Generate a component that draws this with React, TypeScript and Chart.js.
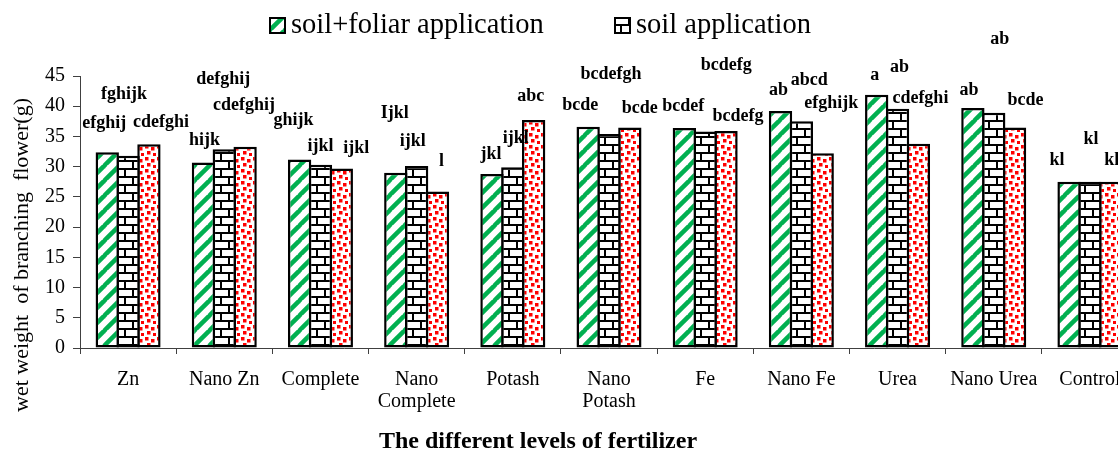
import React, { useEffect, useRef } from "react";
import { Chart, registerables } from "chart.js";

Chart.register(...registerables);

const categories: (string | string[])[] = [
  "Zn",
  "Nano Zn",
  "Complete",
  ["Nano", "Complete"],
  "Potash",
  ["Nano", "Potash"],
  "Fe",
  "Nano Fe",
  "Urea",
  "Nano Urea",
  "Control",
];

const seriesNames = ["soil+foliar application", "soil application", "foliar application"];

const soilFoliar = [32.4, 30.7, 31.2, 29.0, 28.8, 36.6, 36.4, 39.2, 41.9, 39.7, 27.5];
const soilOnly = [31.8, 32.9, 30.3, 30.1, 29.9, 35.4, 35.8, 37.5, 39.6, 38.9, 27.5];
const foliarOnly = [33.7, 33.3, 29.7, 25.9, 37.7, 36.5, 35.9, 32.2, 33.8, 36.5, 27.5];

const lettersSoilFoliar = ["efghij", "hijk", "ghijk", "Ijkl", "jkl", "bcde", "bcdef", "ab", "a", "ab", "kl"];
const lettersSoil = ["fghijk", "defghij", "ijkl", "ijkl", "ijkl", "bcdefgh", "bcdefg", "abcd", "ab", "ab", "kl"];
const lettersFoliar = ["cdefghi", "cdefghij", "ijkl", "l", "abc", "bcde", "bcdefg", "efghijk", "cdefghi", "bcde", "kl"];

// annotation heights (in axis units) where each letter group sits
const letterLevelSoilFoliar = [37.2, 34.4, 37.7, 38.8, 32.0, 40.1, 39.9, 42.6, 45.1, 42.6, 31.1];
const letterLevelSoil = [42.0, 44.5, 33.4, 34.2, 34.7, 45.2, 46.7, 44.3, 46.4, 51.0, 34.6];
const letterLevelFoliar = [37.3, 40.2, 33.1, 30.8, 41.6, 39.7, 38.3, 40.5, 41.3, 40.9, 31.1];

const yTicksMin = 0;
const yTicksMax = 45;
const yTicksStep = 5;

// annotation horizontal nudges (px)
const letterShift = [
  [-3, 1, -6, -1, -1, -8, -1, -2, -2, -4, -12],
  [-4, -1, 0, -4, 3, 2, 21, 8, 2, 6, 1],
  [12, -1, 15, 4, -3, 10, 12, 9, 2, 11, 1],
];

const SERIF = "'Liberation Serif', 'Times New Roman', serif";

function makeStripe(): CanvasPattern | string {
  const c = document.createElement("canvas");
  const p = 15;
  c.width = p;
  c.height = p;
  const g = c.getContext("2d")!;
  g.fillStyle = "#fff";
  g.fillRect(0, 0, p, p);
  g.strokeStyle = "#00B050";
  g.lineWidth = 4.5;
  for (let k = -1; k <= 1; k++) {
    g.beginPath();
    g.moveTo(k * p - 1, p + 1);
    g.lineTo(k * p + p + 1, -1);
    g.stroke();
  }
  return g.createPattern(c, "repeat") || "#00B050";
}

function makeBrick(): CanvasPattern | string {
  const c = document.createElement("canvas");
  const w = 16;
  const h = 16;
  c.width = w;
  c.height = h;
  const g = c.getContext("2d")!;
  g.fillStyle = "#fff";
  g.fillRect(0, 0, w, h);
  g.fillStyle = "#000";
  g.fillRect(0, 0, w, 2);
  g.fillRect(0, 8, w, 2);
  g.fillRect(4, 2, 2, 6);
  g.fillRect(12, 10, 2, 6);
  return g.createPattern(c, "repeat") || "#888";
}

function makeDots(): CanvasPattern | string {
  const c = document.createElement("canvas");
  const s = 12;
  c.width = s;
  c.height = s;
  const g = c.getContext("2d")!;
  g.fillStyle = "#fff";
  g.fillRect(0, 0, s, s);
  g.fillStyle = "#FF0000";
  const pts = [
    [1, 1],
    [7, 3],
    [3, 7],
    [9, 9],
  ];
  pts.forEach(([x, y]) => g.fillRect(x, y, 3.5, 3.5));
  return g.createPattern(c, "repeat") || "#f00";
}

export default function App() {
  const ref = useRef<HTMLCanvasElement | null>(null);

  useEffect(() => {
    if (!ref.current) return;
    const stripe = makeStripe();
    const brick = makeBrick();
    const dots = makeDots();
    const fills = [stripe, brick, dots];

    const letters = [lettersSoilFoliar, lettersSoil, lettersFoliar];
    const levels = [letterLevelSoilFoliar, letterLevelSoil, letterLevelFoliar];

    const annotationPlugin = {
      id: "annotations",
      afterDatasetsDraw(chart: any) {
        const ctx = chart.ctx as CanvasRenderingContext2D;
        const yScale = chart.scales.y;
        ctx.save();
        ctx.fillStyle = "#000";
        ctx.font = `bold 18px ${SERIF}`;
        ctx.textAlign = "center";
        ctx.textBaseline = "middle";
        for (let d = 0; d < 3; d++) {
          const meta = chart.getDatasetMeta(d);
          meta.data.forEach((el: any, i: number) => {
            const x = el.x + letterShift[d][i];
            const y = yScale.getPixelForValue(levels[d][i]);
            ctx.fillText(letters[d][i], x, y);
          });
        }
        ctx.restore();
      },
      afterDraw(chart: any) {
        const ctx = chart.ctx as CanvasRenderingContext2D;
        ctx.save();
        // legend
        const items = [
          { x: 270, tx: 291, fill: fills[0], label: seriesNames[0] },
          { x: 615, tx: 636, fill: fills[1], label: seriesNames[1] },
        ];
        ctx.font = `28.5px ${SERIF}`;
        ctx.textBaseline = "alphabetic";
        ctx.textAlign = "left";
        items.forEach((it) => {
          ctx.fillStyle = it.fill as any;
          ctx.fillRect(it.x, 18, 15, 15);
          ctx.strokeStyle = "#000";
          ctx.lineWidth = 2;
          ctx.strokeRect(it.x, 18, 15, 15);
          ctx.fillStyle = "#000";
          ctx.fillText(it.label, it.tx, 33);
        });
        // y title
        ctx.save();
        ctx.translate(22, 255);
        ctx.rotate(-Math.PI / 2);
        ctx.font = `22px ${SERIF}`;
        ctx.textAlign = "center";
        ctx.textBaseline = "middle";
        ctx.fillText("wet weight  of branching  flower(g)", 0, 0);
        ctx.restore();
        // x title
        ctx.font = `bold 24px ${SERIF}`;
        ctx.textAlign = "center";
        ctx.textBaseline = "middle";
        ctx.fillText("The different levels of fertilizer", 538, 442);
        ctx.restore();
      },
    };

    const chart = new Chart(ref.current, {
      type: "bar",
      data: {
        labels: categories as any,
        datasets: [soilFoliar, soilOnly, foliarOnly].map((vals, i) => ({
          label: seriesNames[i],
          data: vals,
          backgroundColor: fills[i] as any,
          borderColor: "#000",
          borderWidth: 2.5,
          borderSkipped: false,
          categoryPercentage: 0.65,
          barPercentage: 1.12,
        })),
      },
      options: {
        responsive: false,
        animation: false,
        devicePixelRatio: 1,
        layout: { padding: { top: 76, left: 0, right: 2, bottom: 0 } },
        plugins: {
          legend: { display: false },
          tooltip: { enabled: false },
        },
        scales: {
          x: {
            grid: {
              display: true,
              drawOnChartArea: false,
              drawTicks: true,
              tickLength: 6,
              color: "#404040",
              offset: true,
            },
            border: { display: true, color: "#404040", width: 1 },
            ticks: {
              color: "#000",
              font: { family: SERIF, size: 20, lineHeight: 1.1 },
              padding: 15,
              maxRotation: 0,
              autoSkip: false,
            },
            afterFit: (s: any) => {
              s.height = 107;
            },
          },
          y: {
            min: yTicksMin,
            max: yTicksMax,
            ticks: {
              stepSize: yTicksStep,
              color: "#000",
              font: { family: SERIF, size: 20 },
              padding: 8,
            },
            grid: {
              drawOnChartArea: false,
              drawTicks: true,
              tickLength: 7,
              color: "#404040",
            },
            border: { display: true, color: "#404040", width: 1 },
            afterFit: (s: any) => {
              s.width = 80;
            },
          },
        },
      },
      plugins: [annotationPlugin],
    });

    return () => chart.destroy();
  }, []);

  return (
    <div
      style={{
        position: "fixed",
        left: 0,
        top: 0,
        width: 1118,
        height: 455,
        overflow: "hidden",
        background: "#fff",
      }}
    >
      <canvas ref={ref} width={1140} height={455} style={{ display: "block" }} />
    </div>
  );
}
